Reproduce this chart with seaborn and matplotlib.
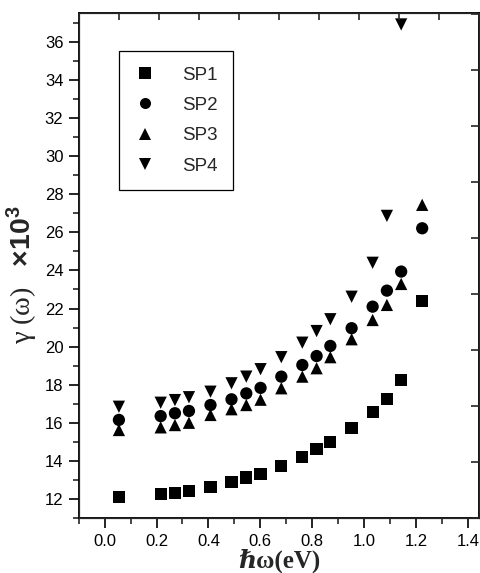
import numpy as np
import matplotlib
matplotlib.use("Agg")
import matplotlib.pyplot as plt
from matplotlib.ticker import MultipleLocator
import seaborn as sns
import pandas as pd

# photon energy (eV)
energy = [0.055, 0.216, 0.271, 0.325, 0.408, 0.489, 0.546, 0.601, 0.681,
          0.762, 0.817, 0.870, 0.952, 1.033, 1.088, 1.143, 1.224]

# gamma(omega) x 10^3 for each sample
sp1 = [12.10, 12.26, 12.31, 12.45, 12.66, 12.92, 13.14, 13.34, 13.76,
       14.23, 14.62, 15.02, 15.72, 16.59, 17.27, 18.27, 22.38]
sp2 = [16.16, 16.36, 16.51, 16.63, 16.94, 17.24, 17.55, 17.84, 18.43,
       19.04, 19.51, 20.04, 20.97, 22.10, 22.94, 23.94, 26.21]
sp3 = [15.63, 15.77, 15.89, 16.01, 16.42, 16.72, 16.94, 17.22, 17.82,
       18.43, 18.87, 19.45, 20.39, 21.40, 22.19, 23.29, 27.44]
sp4 = [16.85, 17.06, 17.20, 17.35, 17.64, 18.08, 18.43, 18.82, 19.45,
       20.21, 20.82, 21.44, 22.62, 24.40, 26.86, 36.90]

series = ["SP1", "SP2", "SP3", "SP4"]
values = [sp1, sp2, sp3, sp4]

rows = []
for name, ys in zip(series, values):
    for xv, yv in zip(energy, ys):
        rows.append((name, xv, yv))
df = pd.DataFrame(rows, columns=["sample", "energy", "gamma"])

sns.set_style("ticks")
plt.rcParams["font.family"] = ["Liberation Sans", "DejaVu Sans"]
plt.rcParams["mathtext.fontset"] = "custom"
plt.rcParams["mathtext.rm"] = "Liberation Serif"
plt.rcParams["mathtext.it"] = "Liberation Serif:italic"
plt.rcParams["mathtext.sf"] = "Liberation Sans:bold"

fig = plt.figure(figsize=(4.81, 5.73), dpi=100)
ax = fig.add_axes([78.7 / 481, 1 - 518.3 / 573, 400.3 / 481, 505.3 / 573])

sns.scatterplot(data=df, x="energy", y="gamma", hue="sample", style="sample",
                markers={"SP1": "s", "SP2": "o", "SP3": "^", "SP4": "v"},
                palette=["black"] * 4, s=78, linewidth=0, ax=ax)

ax.set_xlim(-0.1, 1.443)
ax.set_ylim(11, 37.5)
ax.xaxis.set_major_locator(MultipleLocator(0.2))
ax.xaxis.set_minor_locator(MultipleLocator(0.1))
ax.yaxis.set_major_locator(MultipleLocator(2))
ax.yaxis.set_minor_locator(MultipleLocator(1))
ax.tick_params(which="major", direction="out", length=7, width=1.2, labelsize=12,
               colors="black", pad=4)
ax.tick_params(which="minor", direction="out", length=4, width=1.2)
for sp in ax.spines.values():
    sp.set_linewidth(1.3)
    sp.set_color("black")
    sp.set_visible(True)

ax.set_xlabel("ℏω(eV)", family=["Liberation Serif", "DejaVu Serif"],
              fontweight="bold", fontsize=18, labelpad=0)
ax.set_ylabel(r"$\mathrm{\gamma\ (\omega)}\ \ \ \mathsf{\times 10^{3}}$",
              fontsize=20.5)
ax.yaxis.set_label_coords(-0.097, 0.482)

# unlabeled inner ticks on right and top axes
ax_r = ax.twinx()
ax_r.set_ylim(0, 9.02)
ax_r.yaxis.set_major_locator(MultipleLocator(1))
ax_r.tick_params(direction="in", length=6, width=1.2, labelright=False)
ax_r.grid(False)
ax_t = ax.twiny()
ax_t.set_xlim(0, 1.0)
ax_t.xaxis.set_major_locator(MultipleLocator(0.1))
ax_t.tick_params(direction="in", length=5, width=1.2, labeltop=False)
ax_t.grid(False)

old = ax.get_legend()
handles = old.legend_handles
labels = [t.get_text() for t in old.get_texts()]
old.remove()
leg = ax.legend(handles, labels, loc="upper left",
                bbox_to_anchor=((119 - 78.7) / 400.3, 1 - (50.7 - 13) / 505.3),
                frameon=True, fancybox=False, edgecolor="black", fontsize=13.5,
                markerscale=0.9, labelspacing=0.7, handletextpad=1.4,
                borderpad=0.85, borderaxespad=0, handlelength=1.1)
leg.get_frame().set_linewidth(0.9)
leg.get_frame().set_alpha(None)
leg.set_zorder(5)

fig.savefig("out.png", dpi=100)
